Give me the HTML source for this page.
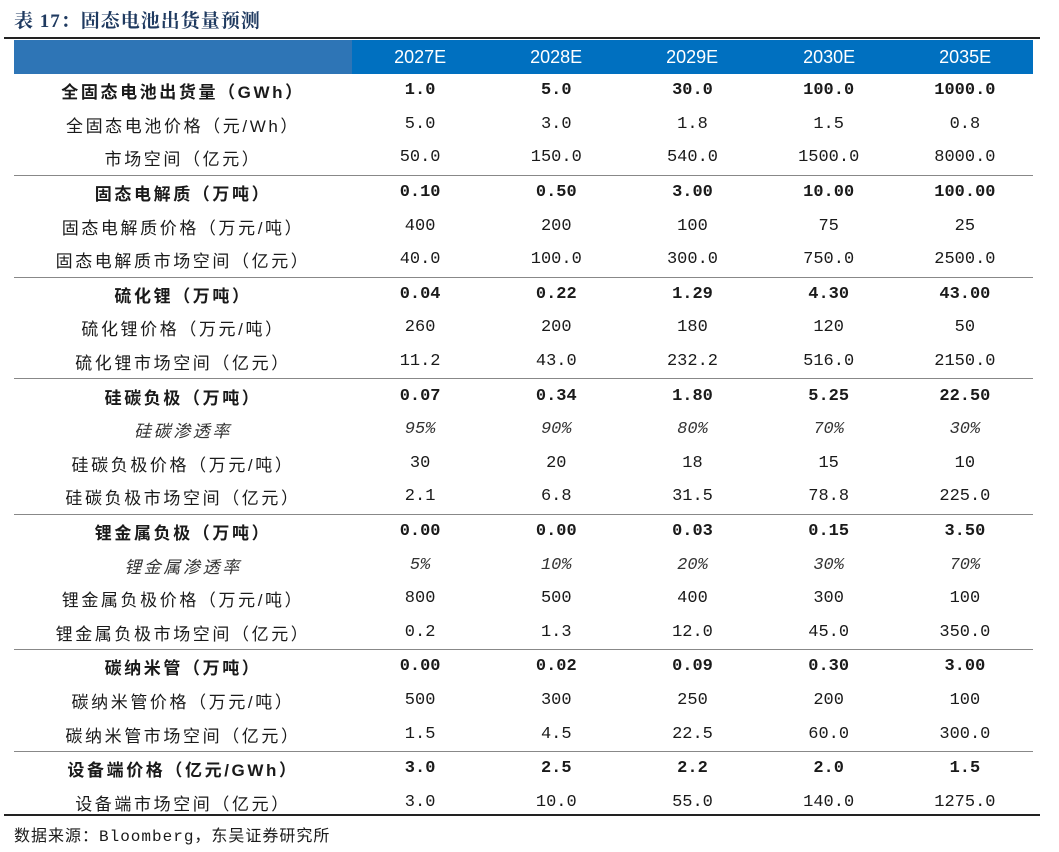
<!DOCTYPE html>
<html><head><meta charset="utf-8"><style>
body{margin:0;width:1059px;height:852px;background:#fff;position:relative;overflow:hidden;font-family:"Liberation Mono","Noto Sans CJK SC",monospace;color:#1a1a1a}
.title{position:absolute;left:14px;top:6px;font:bold 19px "Liberation Serif","Noto Serif CJK SC",serif;color:#1f3a60;letter-spacing:1px}
.rule{position:absolute;left:4px;width:1036px;background:#222}
.hdr{position:absolute;top:40px;height:34px}
table{position:absolute;left:14px;top:74px;border-collapse:collapse;width:1019px}
td{height:33.6px;padding:0;text-align:center;font-size:17px;white-space:nowrap}
td.l{width:338px;letter-spacing:2.6px;font-family:"Liberation Sans","Noto Sans CJK SC",sans-serif}
td.v{width:136.2px}
tr.b td{font-weight:bold}
tr.i td{font-style:italic;color:#333}
tr.sep td{border-top:1.5px solid #888}
.yr{position:absolute;top:40px;height:34px;line-height:34px;width:136.2px;text-align:center;color:#fff;font-family:"Liberation Sans",sans-serif;font-size:18px}
.src{position:absolute;left:14px;top:822px;font-size:16px;letter-spacing:1px}
</style></head><body>
<div class="title">表 17：固态电池出货量预测</div>
<div class="rule" style="top:37px;height:2px"></div>
<div class="hdr" style="left:14px;width:338px;background:#2e75b6"></div>
<div class="hdr" style="left:352px;width:681px;background:#0070c0"></div>
<div class="yr" style="left:352px">2027E</div>
<div class="yr" style="left:488px">2028E</div>
<div class="yr" style="left:624px">2029E</div>
<div class="yr" style="left:761px">2030E</div>
<div class="yr" style="left:897px">2035E</div>
<table>
<tr class="b"><td class="l">全固态电池出货量（GWh）</td><td class="v">1.0</td><td class="v">5.0</td><td class="v">30.0</td><td class="v">100.0</td><td class="v">1000.0</td></tr>
<tr><td class="l">全固态电池价格（元/Wh）</td><td>5.0</td><td>3.0</td><td>1.8</td><td>1.5</td><td>0.8</td></tr>
<tr><td class="l">市场空间（亿元）</td><td>50.0</td><td>150.0</td><td>540.0</td><td>1500.0</td><td>8000.0</td></tr>
<tr class="b sep"><td class="l">固态电解质（万吨）</td><td>0.10</td><td>0.50</td><td>3.00</td><td>10.00</td><td>100.00</td></tr>
<tr><td class="l">固态电解质价格（万元/吨）</td><td>400</td><td>200</td><td>100</td><td>75</td><td>25</td></tr>
<tr><td class="l">固态电解质市场空间（亿元）</td><td>40.0</td><td>100.0</td><td>300.0</td><td>750.0</td><td>2500.0</td></tr>
<tr class="b sep"><td class="l">硫化锂（万吨）</td><td>0.04</td><td>0.22</td><td>1.29</td><td>4.30</td><td>43.00</td></tr>
<tr><td class="l">硫化锂价格（万元/吨）</td><td>260</td><td>200</td><td>180</td><td>120</td><td>50</td></tr>
<tr><td class="l">硫化锂市场空间（亿元）</td><td>11.2</td><td>43.0</td><td>232.2</td><td>516.0</td><td>2150.0</td></tr>
<tr class="b sep"><td class="l">硅碳负极（万吨）</td><td>0.07</td><td>0.34</td><td>1.80</td><td>5.25</td><td>22.50</td></tr>
<tr class="i"><td class="l">硅碳渗透率</td><td>95%</td><td>90%</td><td>80%</td><td>70%</td><td>30%</td></tr>
<tr><td class="l">硅碳负极价格（万元/吨）</td><td>30</td><td>20</td><td>18</td><td>15</td><td>10</td></tr>
<tr><td class="l">硅碳负极市场空间（亿元）</td><td>2.1</td><td>6.8</td><td>31.5</td><td>78.8</td><td>225.0</td></tr>
<tr class="b sep"><td class="l">锂金属负极（万吨）</td><td>0.00</td><td>0.00</td><td>0.03</td><td>0.15</td><td>3.50</td></tr>
<tr class="i"><td class="l">锂金属渗透率</td><td>5%</td><td>10%</td><td>20%</td><td>30%</td><td>70%</td></tr>
<tr><td class="l">锂金属负极价格（万元/吨）</td><td>800</td><td>500</td><td>400</td><td>300</td><td>100</td></tr>
<tr><td class="l">锂金属负极市场空间（亿元）</td><td>0.2</td><td>1.3</td><td>12.0</td><td>45.0</td><td>350.0</td></tr>
<tr class="b sep"><td class="l">碳纳米管（万吨）</td><td>0.00</td><td>0.02</td><td>0.09</td><td>0.30</td><td>3.00</td></tr>
<tr><td class="l">碳纳米管价格（万元/吨）</td><td>500</td><td>300</td><td>250</td><td>200</td><td>100</td></tr>
<tr><td class="l">碳纳米管市场空间（亿元）</td><td>1.5</td><td>4.5</td><td>22.5</td><td>60.0</td><td>300.0</td></tr>
<tr class="b sep"><td class="l">设备端价格（亿元/GWh）</td><td>3.0</td><td>2.5</td><td>2.2</td><td>2.0</td><td>1.5</td></tr>
<tr><td class="l">设备端市场空间（亿元）</td><td>3.0</td><td>10.0</td><td>55.0</td><td>140.0</td><td>1275.0</td></tr>
</table>
<div class="rule" style="top:814px;height:2px"></div>
<div class="src">数据来源：Bloomberg，东吴证券研究所</div>
</body></html>
